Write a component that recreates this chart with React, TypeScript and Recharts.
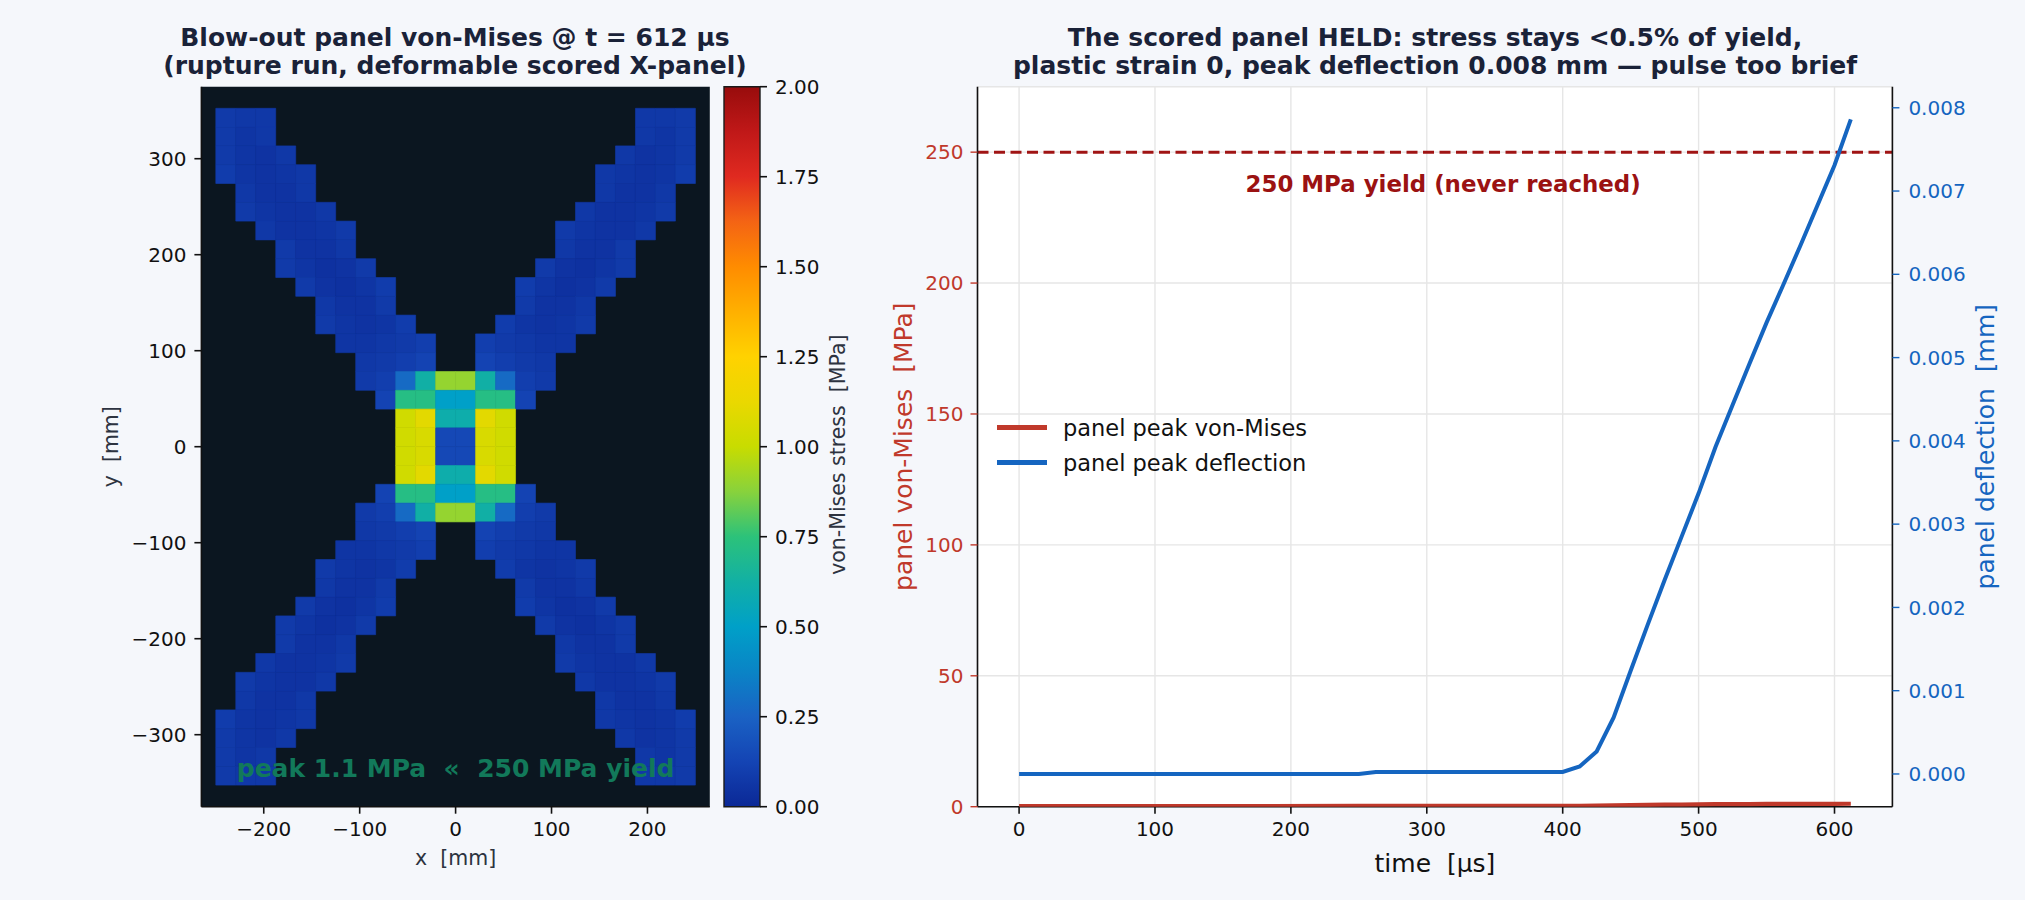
import React from 'react';
import {
  ScatterChart,
  BarChart,
  Bar,
  ComposedChart,
  Line,
  XAxis,
  YAxis,
  CartesianGrid,
  ReferenceArea,
  ReferenceLine,
  ReferenceDot,
  Legend,
} from 'recharts';

const FONT = '"DejaVu Sans", "Liberation Sans", sans-serif';
const NB = '\u00a0';

// ---------- left: von-Mises field @ t = 612 µs ----------
// top-left quadrant of the 24 x 36 element grid (MPa), null = no scored element there
// (the X-panel field is mirror-symmetric about both axes)
const stressQuadrant: (number | null)[][] = [
  [0.08, 0.07, 0.07, null, null, null, null, null, null, null, null, null],
  [0.08, 0.06, 0.07, null, null, null, null, null, null, null, null, null],
  [0.08, 0.06, 0.05, 0.07, null, null, null, null, null, null, null, null],
  [0.09, 0.06, 0.05, 0.06, 0.07, null, null, null, null, null, null, null],
  [null, 0.07, 0.05, 0.05, 0.07, null, null, null, null, null, null, null],
  [null, 0.08, 0.06, 0.05, 0.05, 0.07, null, null, null, null, null, null],
  [null, null, 0.07, 0.05, 0.05, 0.06, 0.08, null, null, null, null, null],
  [null, null, null, 0.08, 0.05, 0.05, 0.07, null, null, null, null, null],
  [null, null, null, 0.08, 0.06, 0.04, 0.05, 0.08, null, null, null, null],
  [null, null, null, null, 0.08, 0.05, 0.04, 0.06, 0.09, null, null, null],
  [null, null, null, null, null, 0.07, 0.05, 0.05, 0.08, null, null, null],
  [null, null, null, null, null, 0.08, 0.06, 0.05, 0.06, 0.09, null, null],
  [null, null, null, null, null, null, 0.06, 0.06, 0.07, 0.08, 0.1, null],
  [null, null, null, null, null, null, null, 0.07, 0.08, 0.1, 0.12, null],
  [null, null, null, null, null, null, null, 0.08, 0.1, 0.28, 0.62, 0.9],
  [null, null, null, null, null, null, null, null, 0.12, 0.72, 0.72, 0.5],
  [null, null, null, null, null, null, null, null, null, 1.03, 1.1, 0.6],
  [null, null, null, null, null, null, null, null, null, 1.03, 1.06, 0.14],
];
const gridCols = 24;
const gridRows = 36;
const panelHalfW = 250; // mm
const panelHalfH = 352.5; // mm

const mapXTicks = [-200, -100, 0, 100, 200];
const mapYTicks = [-300, -200, -100, 0, 100, 200, 300];
const peakText = `peak 1.1 MPa${NB}${NB}«${NB}${NB}250 MPa yield`;

// colormap (MPa -> colour)
const cmapStops: [number, string][] = [
  [0, '#0b2896'],
  [0.125, '#1444b4'],
  [0.25, '#1a62c4'],
  [0.375, '#0a84c6'],
  [0.5, '#00a0c8'],
  [0.625, '#12b0a4'],
  [0.75, '#2cc27a'],
  [0.875, '#88d23c'],
  [1.0, '#c8dc00'],
  [1.125, '#ead800'],
  [1.25, '#ffd200'],
  [1.375, '#ffb000'],
  [1.5, '#ff8c00'],
  [1.625, '#f46414'],
  [1.75, '#e02a20'],
  [1.875, '#c01818'],
  [2.0, '#980c0c'],
];
const cbarTicks = [0, 0.25, 0.5, 0.75, 1.0, 1.25, 1.5, 1.75, 2.0];

// ---------- right: time history ----------
const timeUs = [0, 250, 262.5, 400, 412.5, 425, 437.5, 450, 462.5, 475, 487.5, 500, 512.5, 525, 537.5, 550, 562.5, 575, 587.5, 600, 612];
const peakVonMises = [0.25, 0.28, 0.28, 0.3, 0.35, 0.42, 0.5, 0.6, 0.68, 0.76, 0.83, 0.9, 0.95, 0.99, 1.02, 1.05, 1.07, 1.08, 1.09, 1.1, 1.12];
const peakDeflection = [0, 0, 0.000025, 0.000025, 0.00009, 0.00027, 0.00068, 0.00124, 0.00179, 0.00233, 0.00285, 0.00337, 0.00393, 0.00443, 0.00493, 0.00542, 0.00588, 0.00635, 0.00683, 0.00731, 0.00786];
const timeTicks = [0, 100, 200, 300, 400, 500, 600];
const stressTicks = [0, 50, 100, 150, 200, 250];
const deflTicks = [0, 0.001, 0.002, 0.003, 0.004, 0.005, 0.006, 0.007, 0.008];
const yieldMPa = 250;
const seriesNames = ['panel peak von-Mises', 'panel peak deflection'];

const RED = '#c0392b';
const BLUE = '#1565c0';
const INK = '#2d3340';

function hexToRgb(h: string) {
  return [1, 3, 5].map((i) => parseInt(h.slice(i, i + 2), 16));
}

function colorFor(v: number) {
  for (let i = 0; i < cmapStops.length - 1; i++) {
    const [v0, c0] = cmapStops[i];
    const [v1, c1] = cmapStops[i + 1];
    if (v <= v1) {
      const f = Math.max(0, (v - v0) / (v1 - v0));
      const a = hexToRgb(c0);
      const b = hexToRgb(c1);
      const rgb = a.map((x, k) => Math.round(x + (b[k] - x) * f));
      return `rgb(${rgb.join(',')})`;
    }
  }
  return cmapStops[cmapStops.length - 1][1];
}

const minus = (v: number) => (v < 0 ? `\u2212${Math.abs(v)}` : `${v}`);

// rotated axis title, placed relative to the axis viewBox
function vTitle(text: string, dx: number, color: string, size: number, dy = 0) {
  return (props: any) => {
    const vb = props.viewBox;
    const cx = vb.x + dx;
    const cy = vb.y + vb.height / 2 + dy;
    return (
      <text x={cx} y={cy} transform={`rotate(-90, ${cx}, ${cy})`} textAnchor="middle" dominantBaseline="central" fill={color} fontSize={size}>
        {text}
      </text>
    );
  };
}

function hTitle(text: string, dy: number, color: string, size: number) {
  return (props: any) => {
    const vb = props.viewBox;
    return (
      <text x={vb.x + vb.width / 2} y={vb.y + dy} textAnchor="middle" dominantBaseline="central" fill={color} fontSize={size}>
        {text}
      </text>
    );
  };
}

function buildCells() {
  const dx = (2 * panelHalfW) / gridCols;
  const dy = (2 * panelHalfH) / gridRows;
  const cells: { x1: number; x2: number; y1: number; y2: number; v: number }[] = [];
  for (let r = 0; r < gridRows; r++) {
    const qr = r < gridRows / 2 ? r : gridRows - 1 - r;
    for (let c = 0; c < gridCols; c++) {
      const qc = c < gridCols / 2 ? c : gridCols - 1 - c;
      const v = stressQuadrant[qr][qc];
      if (v == null) continue;
      cells.push({
        x1: -panelHalfW + c * dx,
        x2: -panelHalfW + (c + 1) * dx,
        y1: panelHalfH - (r + 1) * dy,
        y2: panelHalfH - r * dy,
        v,
      });
    }
  }
  return cells;
}

const tickStyle = { fill: '#111', fontSize: 20 };
const spine = { stroke: '#111', strokeWidth: 1.6 };

function StressMap() {
  const cells = buildCells();
  return (
    <ScatterChart width={720} height={900} margin={{ top: 86.7, right: 10.2, bottom: 33.3, left: 101.4 }}>
      <XAxis
        type="number"
        dataKey="x"
        domain={[-265, 265]}
        allowDataOverflow
        ticks={mapXTicks}
        tickFormatter={minus}
        height={60}
        tickSize={7}
        tickMargin={8}
        tick={tickStyle}
        tickLine={spine}
        axisLine={spine}
        label={hTitle(`x${NB}${NB}[mm]`, 51, INK, 20.5)}
      />
      <XAxis xAxisId="frame" orientation="top" type="number" domain={[-265, 265]} allowDataOverflow height={0} tick={false} tickLine={false} axisLine={spine} />
      <YAxis
        type="number"
        dataKey="y"
        domain={[-375, 375]}
        allowDataOverflow
        ticks={mapYTicks}
        tickFormatter={minus}
        width={100}
        tickSize={7}
        tickMargin={8}
        tick={tickStyle}
        tickLine={spine}
        axisLine={spine}
        label={vTitle(`y${NB}${NB}[mm]`, 9.6, INK, 20.5)}
      />
      <YAxis yAxisId="frame" orientation="right" type="number" domain={[-375, 375]} allowDataOverflow width={0} tick={false} tickLine={false} axisLine={spine} />
      <ReferenceArea x1={-265} x2={265} y1={-375} y2={375} fill="#0b1620" fillOpacity={1} stroke="none" />
      {cells.map((c, i) => (
        <ReferenceArea
          key={i}
          x1={c.x1}
          x2={c.x2}
          y1={c.y1}
          y2={c.y2}
          fill={colorFor(c.v)}
          fillOpacity={1}
          stroke={colorFor(c.v)}
          strokeWidth={0.6}
        />
      ))}
      <ReferenceLine
        y={-335}
        stroke="none"
        label={{ value: peakText, position: 'center', fill: '#12795a', fontSize: 25, fontWeight: 'bold' }}
      />
    </ScatterChart>
  );
}

function ColorBar() {
  const bar = [{ name: 'vm', top: cbarTicks[cbarTicks.length - 1] }];
  return (
    <BarChart width={170} height={900} data={bar} barCategoryGap={0} margin={{ top: 86.7, right: 0, bottom: 93.3, left: 24 }}>
      <defs>
        <linearGradient id="cbarGrad" x1="0" y1="1" x2="0" y2="0">
          {cmapStops.map(([v, c]) => (
            <stop key={v} offset={`${(v / 2) * 100}%`} stopColor={c} />
          ))}
        </linearGradient>
      </defs>
      <XAxis dataKey="name" hide />
      <YAxis
        orientation="right"
        type="number"
        domain={[0, 2]}
        ticks={cbarTicks}
        tickFormatter={(v: number) => v.toFixed(2)}
        width={110}
        tickSize={7}
        tickMargin={8}
        tick={tickStyle}
        tickLine={spine}
        axisLine={false}
        label={vTitle(`von-Mises stress${NB}${NB}[MPa]`, 78, INK, 20.5, 8)}
      />
      <Bar dataKey="top" fill="url(#cbarGrad)" stroke="#1a1a1a" strokeWidth={1.4} isAnimationActive={false} />
    </BarChart>
  );
}

function renderLegend(props: any) {
  const items = [...(props.payload || [])].sort(
    (a: any, b: any) => seriesNames.indexOf(a.value) - seriesNames.indexOf(b.value),
  );
  return (
    <div>
      {items.map((e: any) => (
        <div key={e.value} style={{ display: 'flex', alignItems: 'center', height: 35 }}>
          <span style={{ display: 'inline-block', width: 50, height: 4.2, background: e.color, marginRight: 16 }} />
          <span style={{ fontSize: 22.5, color: '#111', whiteSpace: 'nowrap' }}>{e.value}</span>
        </div>
      ))}
    </div>
  );
}

function HistoryChart() {
  const rows = timeUs.map((t, i) => ({ t, vm: peakVonMises[i], defl: peakDeflection[i] }));
  return (
    <ComposedChart width={1155} height={900} data={rows} margin={{ top: 86.7, right: 0, bottom: 33.3, left: 0 }}>
      <CartesianGrid yAxisId="mpa" stroke="#e6e6e6" strokeWidth={1.4} fill="#ffffff" fillOpacity={1} />
      <XAxis
        dataKey="t"
        type="number"
        domain={[-30.6, 642.6]}
        allowDataOverflow
        ticks={timeTicks}
        height={60}
        tickSize={7}
        tickMargin={8}
        tick={tickStyle}
        tickLine={spine}
        axisLine={spine}
        label={hTitle(`time${NB}${NB}[µs]`, 56.5, '#111', 25)}
      />
      <XAxis xAxisId="frame" orientation="top" dataKey="t" type="number" domain={[-30.6, 642.6]} allowDataOverflow height={0} tick={false} tickLine={false} axisLine={spine} />
      <YAxis
        yAxisId="mpa"
        type="number"
        domain={[0, 275]}
        allowDataOverflow
        ticks={stressTicks}
        width={107.5}
        tickSize={7}
        tickMargin={7}
        tick={{ fill: RED, fontSize: 20 }}
        tickLine={{ stroke: RED, strokeWidth: 1.4 }}
        axisLine={spine}
        label={vTitle(`panel von-Mises${NB}${NB}[MPa]`, 34, RED, 25)}
      />
      <YAxis
        yAxisId="mm"
        orientation="right"
        type="number"
        domain={[-0.000393, 0.008253]}
        allowDataOverflow
        ticks={deflTicks}
        tickFormatter={(v: number) => v.toFixed(3)}
        width={132.6}
        tickSize={7}
        tickMargin={9}
        tick={{ fill: BLUE, fontSize: 20 }}
        tickLine={{ stroke: BLUE, strokeWidth: 1.4 }}
        axisLine={spine}
        label={vTitle(`panel deflection${NB}${NB}[mm]`, 93, BLUE, 25)}
      />
      <ReferenceLine yAxisId="mpa" y={yieldMPa} stroke="#a01414" strokeWidth={3} strokeDasharray="11 5.5" />
      <ReferenceDot
        yAxisId="mpa"
        x={312}
        y={238}
        r={0}
        fill="none"
        stroke="none"
        label={{ value: '250 MPa yield (never reached)', position: 'center', fill: '#9b1212', fontSize: 22.9, fontWeight: 'bold' }}
      />
      <Line yAxisId="mpa" dataKey="vm" name={seriesNames[0]} stroke={RED} strokeWidth={4.2} dot={false} isAnimationActive={false} zIndex={600} />
      <Line yAxisId="mm" dataKey="defl" name={seriesNames[1]} stroke={BLUE} strokeWidth={4} dot={false} isAnimationActive={false} />
      <Legend layout="vertical" align="center" verticalAlign="middle" wrapperStyle={{ left: 127, top: 410, width: 320 }} content={renderLegend} />
    </ComposedChart>
  );
}

function Title({ centerX, lines }: { centerX: number; lines: string[] }) {
  return (
    <div
      style={{
        position: 'absolute',
        left: centerX - 500,
        top: 24,
        width: 1000,
        textAlign: 'center',
        fontSize: 25,
        lineHeight: '27.8px',
        fontWeight: 'bold',
        color: '#1a2238',
        whiteSpace: 'nowrap',
      }}
    >
      {lines.map((l) => (
        <div key={l}>{l}</div>
      ))}
    </div>
  );
}

export default function App() {
  return (
    <div style={{ position: 'absolute', left: 0, top: 0, width: 2025, height: 900, background: '#f5f7fb', fontFamily: FONT, overflow: 'hidden' }}>
      <div style={{ position: 'absolute', left: 0, top: 0 }}>
        <StressMap />
      </div>
      <div style={{ position: 'absolute', left: 700, top: 0 }}>
        <ColorBar />
      </div>
      <div style={{ position: 'absolute', left: 870, top: 0 }}>
        <HistoryChart />
      </div>
      <Title centerX={455} lines={['Blow-out panel von-Mises @ t = 612 µs', '(rupture run, deformable scored X-panel)']} />
      <Title
        centerX={1435}
        lines={['The scored panel HELD: stress stays <0.5% of yield,', 'plastic strain 0, peak deflection 0.008 mm \u2014 pulse too brief']}
      />
    </div>
  );
}
